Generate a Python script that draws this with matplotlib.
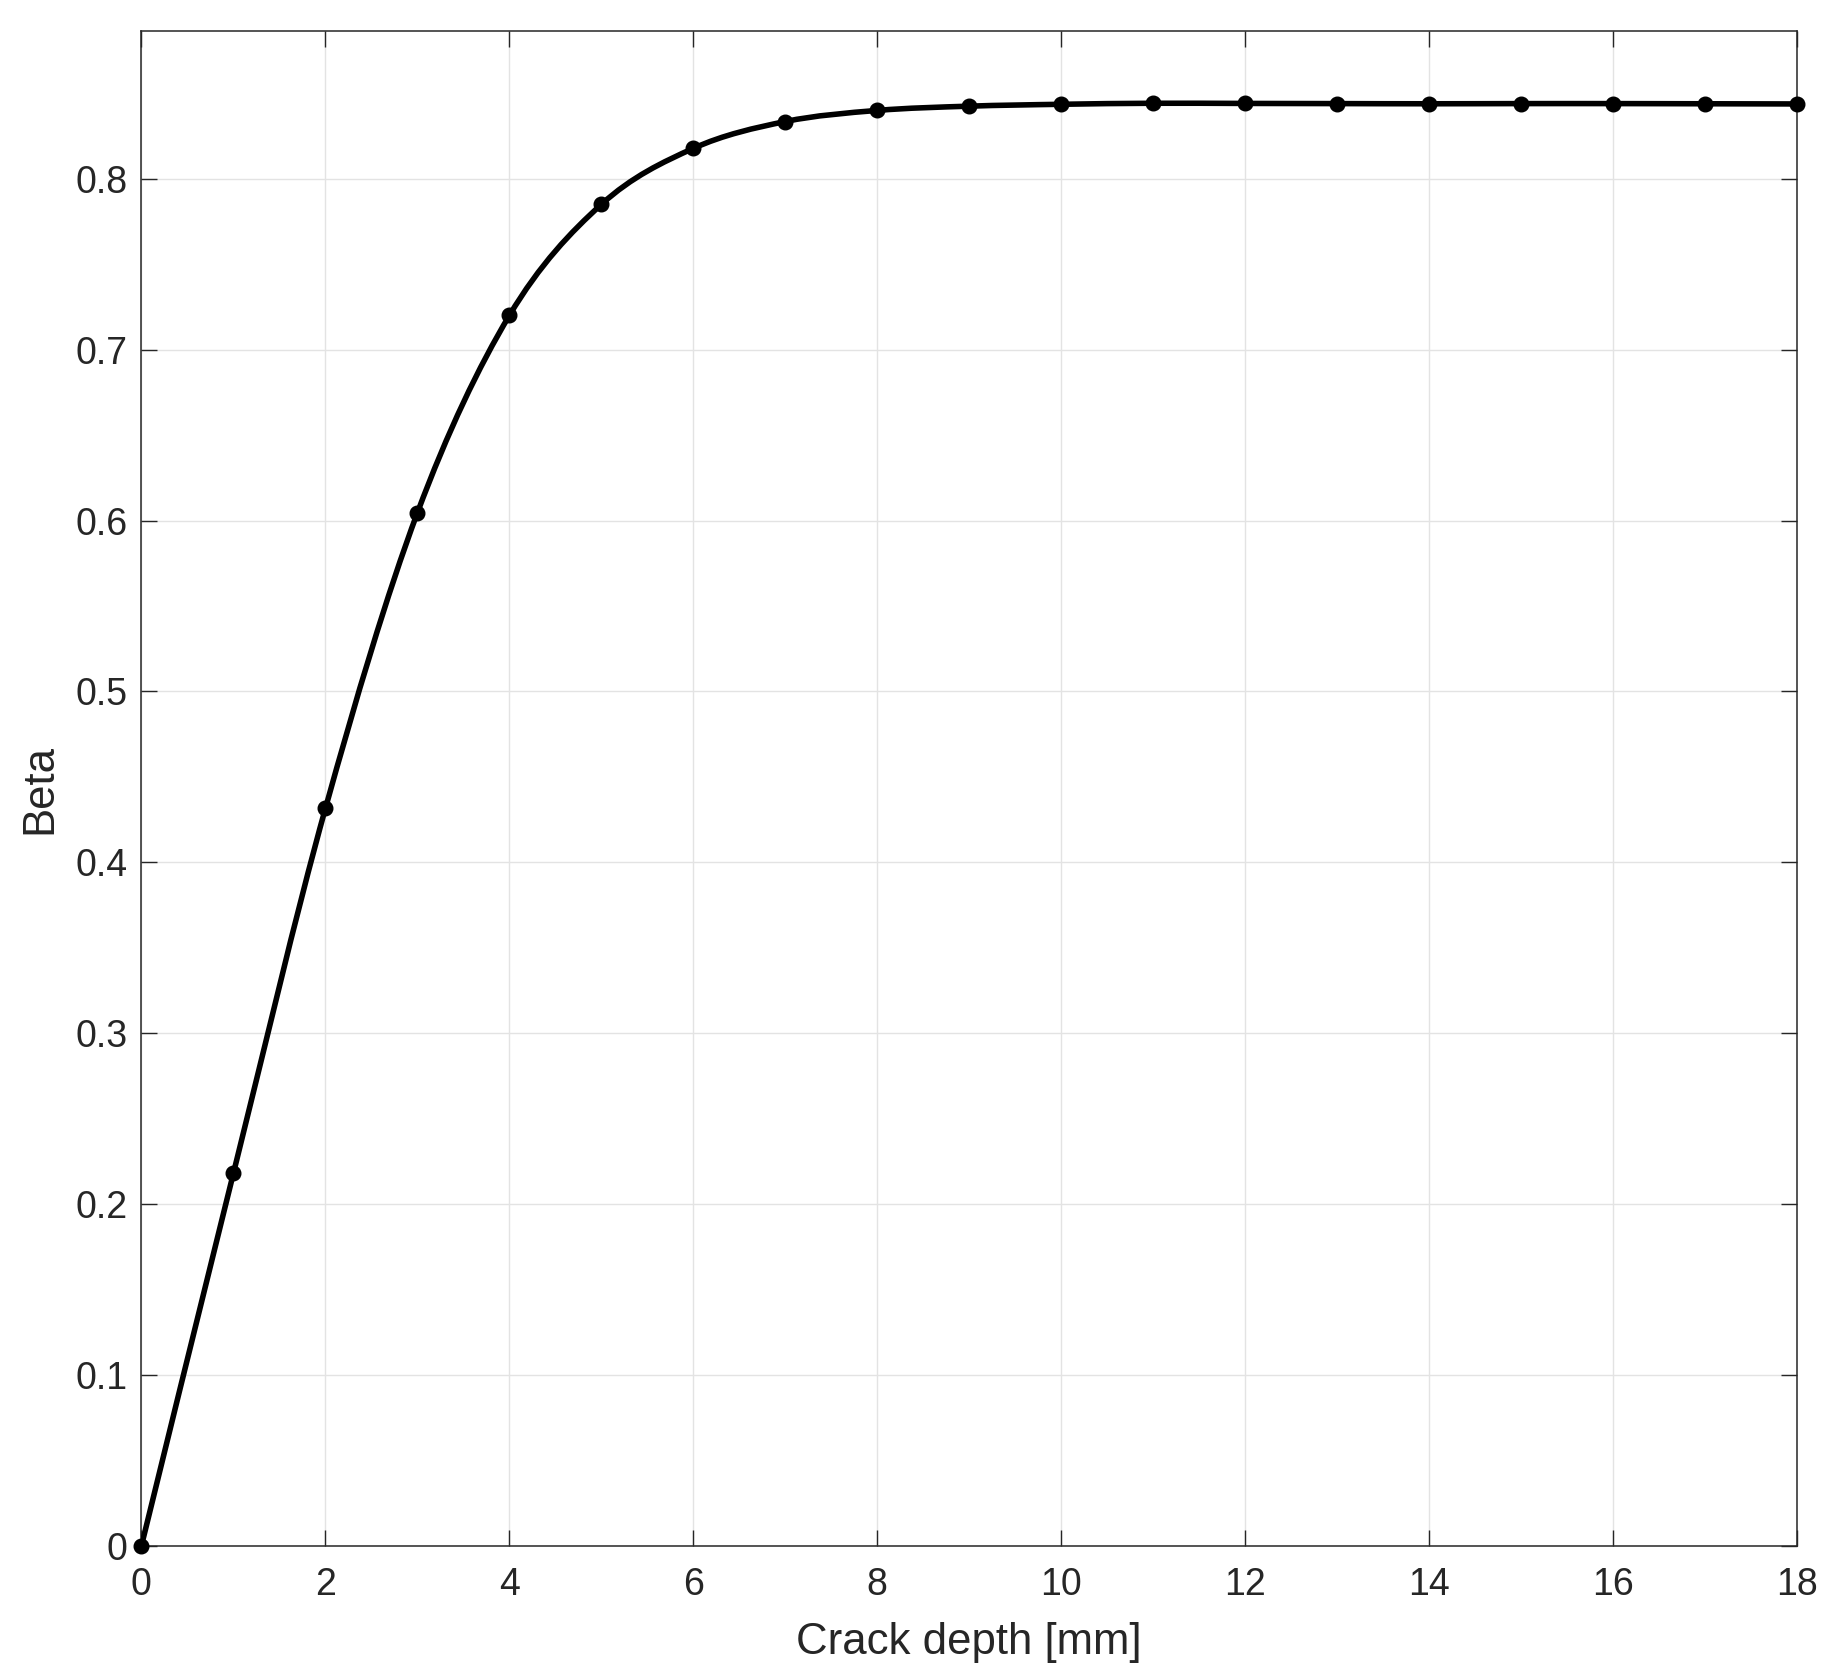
import matplotlib
matplotlib.use("Agg")
import matplotlib.pyplot as plt
from matplotlib.path import Path
from matplotlib.patches import PathPatch

crack_depth = [0, 1, 2, 3, 4, 5, 6, 7, 8, 9, 10, 11, 12, 13, 14, 15, 16, 17, 18]
beta = [0.0, 0.218, 0.4315, 0.6045, 0.720, 0.785, 0.8178, 0.8335, 0.8400,
        0.8425, 0.8436, 0.8442, 0.8441, 0.8440, 0.8439, 0.8440, 0.8440, 0.8439, 0.8438]
x_ticks = list(range(0, 19, 2))
y_ticks = [0, 0.1, 0.2, 0.3, 0.4, 0.5, 0.6, 0.7, 0.8]
y_tick_labels = ["0", "0.1", "0.2", "0.3", "0.4", "0.5", "0.6", "0.7", "0.8"]

plt.rcParams['font.family'] = ['Liberation Sans', 'DejaVu Sans']
text_col = '#262626'

fig = plt.figure(figsize=(18.32, 16.75), dpi=100)
ax = fig.add_axes([0.0772, 0.0771, 0.9809 - 0.0772, 0.9812 - 0.0771])

# smooth curve through data points (Catmull-Rom as cubic Bezier segments)
pts = list(zip(crack_depth, beta))
verts = [pts[0]]
codes = [Path.MOVETO]
n = len(pts)
for i in range(n - 1):
    p0 = pts[i - 1] if i > 0 else pts[i]
    p1 = pts[i]
    p2 = pts[i + 1]
    p3 = pts[i + 2] if i + 2 < n else pts[i + 1]
    c1 = (p1[0] + (p2[0] - p0[0]) / 6, p1[1] + (p2[1] - p0[1]) / 6)
    c2 = (p2[0] - (p3[0] - p1[0]) / 6, p2[1] - (p3[1] - p1[1]) / 6)
    verts += [c1, c2, p2]
    codes += [Path.CURVE4] * 3
patch = PathPatch(Path(verts, codes), facecolor='none', edgecolor='black',
                  linewidth=4.0, zorder=3, capstyle='round', joinstyle='round')
ax.add_patch(patch)
ax.plot(crack_depth, beta, linestyle='none', marker='o', color='black',
        markersize=10.5, markeredgewidth=1, zorder=4, clip_on=False)

ax.set_xlim(0, 18)
ax.set_ylim(0, 0.8862)
ax.set_xticks(x_ticks)
ax.set_yticks(y_ticks)
ax.set_yticklabels(y_tick_labels)
ax.grid(True, color='#e3e3e3', linewidth=1.0, zorder=0)
ax.set_axisbelow(True)
ax.tick_params(direction='in', length=11.5, width=1.0, colors=text_col,
               labelsize=27, top=True, right=True)
ax.tick_params(axis='x', pad=15)
ax.tick_params(axis='y', pad=10)
for s in ax.spines.values():
    s.set_color(text_col)
    s.set_linewidth(1.1)
ax.set_xlabel('Crack depth [mm]', fontsize=31.5, color=text_col, labelpad=14)
ax.set_ylabel('Beta', fontsize=31.5, color=text_col, labelpad=11)

fig.savefig('out.png', dpi=100, facecolor='white')
